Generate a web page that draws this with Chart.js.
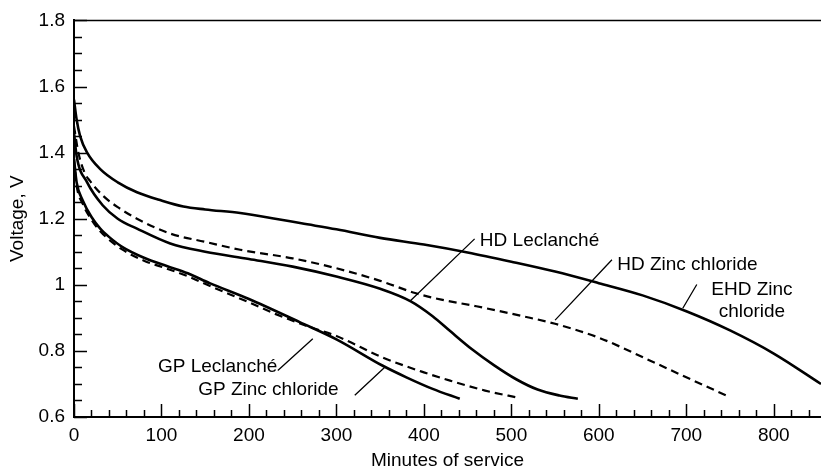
<!DOCTYPE html>
<html><head><meta charset="utf-8">
<script src="https://cdn.jsdelivr.net/npm/chart.js@4"></script>
<style>html,body{margin:0;padding:0;background:#fff}#wrap{width:821px;height:472px}</style>
</head><body><div id="wrap"><canvas id="c" width="821" height="472"></canvas></div>
<script>
// ---- tick labels ----
const xTickValues = [0, 100, 200, 300, 400, 500, 600, 700, 800];
const xTickLabels = ['0', '100', '200', '300', '400', '500', '600', '700', '800'];
const yTickValues = [0.6, 0.8, 1.0, 1.2, 1.4, 1.6, 1.8];
const yTickLabels = ['0.6', '0.8', '1', '1.2', '1.4', '1.6', '1.8'];

// ---- series (minutes of service, voltage) ----
const gpLecMinutes = [0, 3, 10, 20, 30, 40, 55, 80, 106, 130, 155, 200, 258, 300, 353, 380, 410, 441];
const gpLecVolts   = [1.38, 1.31, 1.255, 1.205, 1.17, 1.145, 1.115, 1.082, 1.057, 1.035, 1.005, 0.957, 0.887, 0.835, 0.755, 0.72, 0.685, 0.655];

const gpZncMinutes = [0, 3, 10, 20, 30, 40, 55, 80, 106, 130, 155, 200, 230, 270, 300, 353, 400, 430, 470, 510];
const gpZncVolts   = [1.38, 1.30, 1.245, 1.197, 1.162, 1.137, 1.107, 1.073, 1.049, 1.026, 0.997, 0.947, 0.912, 0.872, 0.845, 0.78, 0.735, 0.71, 0.68, 0.657];

const hdLecMinutes = [0, 3, 15, 33, 50, 72, 110, 150, 200, 250, 300, 350, 385, 410, 430, 455, 480, 505, 530, 555, 576];
const hdLecVolts   = [1.46, 1.39, 1.31, 1.24, 1.20, 1.17, 1.125, 1.10, 1.078, 1.055, 1.025, 0.988, 0.95, 0.905, 0.86, 0.805, 0.757, 0.715, 0.683, 0.665, 0.655];

const hdZncMinutes = [0, 5, 12, 18, 33, 50, 72, 110, 150, 190, 250, 300, 350, 390, 420, 460, 513, 550, 600, 655, 700, 750];
const hdZncVolts   = [1.48, 1.40, 1.34, 1.315, 1.27, 1.235, 1.20, 1.155, 1.13, 1.106, 1.08, 1.05, 1.012, 0.975, 0.955, 0.935, 0.905, 0.882, 0.84, 0.775, 0.72, 0.66];

const ehdZncMinutes = [0, 3, 7, 15, 30, 50, 72, 100, 125, 150, 190, 230, 260, 300, 350, 400, 450, 500, 550, 600, 650, 700, 750, 800, 854];
const ehdZncVolts   = [1.56, 1.50, 1.45, 1.40, 1.35, 1.31, 1.28, 1.255, 1.237, 1.228, 1.217, 1.20, 1.186, 1.168, 1.142, 1.122, 1.098, 1.07, 1.04, 1.005, 0.968, 0.92, 0.862, 0.792, 0.70];

const seriesNames = ['GP Leclanché', 'GP Zinc chloride', 'HD Leclanché', 'HD Zinc chloride', 'EHD Zinc chloride'];

// ---- annotation labels (data units) ----
const noteTexts = [['GP Leclanché'], ['GP Zinc chloride'], ['HD Leclanché'], ['HD Zinc chloride'], ['EHD Zinc', 'chloride']];
const noteAnchor = [[96, 0.753], [142, 0.681], [464, 1.133], [621, 1.061], [775, 0.986]];
const noteAlign = ['left', 'left', 'left', 'left', 'center'];
const leaderFrom = [[233, 0.741], [321, 0.666], [458, 1.139], [615, 1.076], [712, 1.001]];
const leaderTo   = [[273, 0.837], [355, 0.750], [384, 0.950], [550, 0.893], [696, 0.929]];

function pts(xs, ys) { return xs.map((x, i) => ({x: x, y: ys[i]})); }

const FONT = '"Liberation Sans", Arial, Helvetica, sans-serif';

function mkSet(i, xs, ys, dashed) {
  return {
    label: seriesNames[i],
    data: pts(xs, ys),
    borderColor: '#000',
    borderWidth: dashed ? 2.2 : 2.6,
    borderDash: dashed ? [8, 5] : [],
    pointRadius: 0,
    fill: false,
    cubicInterpolationMode: 'monotone'
  };
}

const decor = {
  id: 'decor',
  afterDraw(chart) {
    const ctx = chart.ctx;
    const xs = chart.scales.x, ys = chart.scales.y;
    const a = chart.chartArea;
    ctx.save();
    ctx.strokeStyle = '#000';
    // top border
    ctx.lineWidth = 1.5;
    ctx.beginPath(); ctx.moveTo(a.left, a.top); ctx.lineTo(a.right, a.top); ctx.stroke();
    // inward ticks
    ctx.lineWidth = 1.5;
    ctx.beginPath();
    for (let v = 0; v <= xs.max + 0.001; v += 20) {
      const px = Math.round(xs.getPixelForValue(v)) + 0.5;
      const len = (Math.round(v) % 100 === 0) ? 13 : 7;
      ctx.moveTo(px, a.bottom); ctx.lineTo(px, a.bottom - len);
    }
    for (let k = 0; k <= 24; k++) {
      const v = 0.6 + k * 0.05;
      const py = Math.round(ys.getPixelForValue(v)) + 0.5;
      const len = (k % 4 === 0) ? 13 : 8;
      ctx.moveTo(a.left, py); ctx.lineTo(a.left + len, py);
    }
    ctx.stroke();
    // leaders
    ctx.lineWidth = 1.3;
    ctx.beginPath();
    for (let i = 0; i < leaderFrom.length; i++) {
      ctx.moveTo(xs.getPixelForValue(leaderFrom[i][0]), ys.getPixelForValue(leaderFrom[i][1]));
      ctx.lineTo(xs.getPixelForValue(leaderTo[i][0]), ys.getPixelForValue(leaderTo[i][1]));
    }
    ctx.stroke();
    // labels
    ctx.fillStyle = '#000';
    ctx.font = '19px ' + FONT;
    ctx.textBaseline = 'middle';
    for (let i = 0; i < noteTexts.length; i++) {
      ctx.textAlign = noteAlign[i];
      const px = xs.getPixelForValue(noteAnchor[i][0]);
      const py = ys.getPixelForValue(noteAnchor[i][1]);
      noteTexts[i].forEach((t, j) => { ctx.fillText(t, px, py + j * 22); });
    }
    ctx.restore();
  }
};

new Chart(document.getElementById('c'), {
  type: 'line',
  data: {
    datasets: [
      mkSet(0, gpLecMinutes, gpLecVolts, false),
      mkSet(1, gpZncMinutes, gpZncVolts, true),
      mkSet(2, hdLecMinutes, hdLecVolts, false),
      mkSet(3, hdZncMinutes, hdZncVolts, true),
      mkSet(4, ehdZncMinutes, ehdZncVolts, false)
    ]
  },
  options: {
    responsive: false,
    devicePixelRatio: 1,
    animation: false,
    layout: {padding: {top: 15, right: 0, bottom: 0, left: 0}},
    plugins: {legend: {display: false}, tooltip: {enabled: false}},
    scales: {
      x: {
        type: 'linear', min: 0, max: 854,
        afterFit(s) { s.height = 55; },
        afterBuildTicks(s) { s.ticks = xTickValues.map(v => ({value: v})); },
        grid: {display: false, drawTicks: false},
        border: {display: true, color: '#000', width: 2},
        ticks: {
          padding: 7, color: '#000', maxRotation: 0, autoSkip: false,
          font: {family: FONT, size: 19},
          callback: (v) => { const i = xTickValues.indexOf(v); return i >= 0 ? xTickLabels[i] : ''; }
        },
        title: {display: true, text: 'Minutes of service', color: '#000',
                font: {family: FONT, size: 19}, padding: {top: 0, bottom: 0}}
      },
      y: {
        type: 'linear', min: 0.6, max: 1.8,
        afterFit(s) { s.width = 74; },
        afterBuildTicks(s) { s.ticks = yTickValues.map(v => ({value: v})); },
        grid: {display: false, drawTicks: false},
        border: {display: true, color: '#000', width: 2},
        ticks: {
          padding: 9, color: '#000', autoSkip: false,
          font: {family: FONT, size: 19},
          callback: (v) => { const i = yTickValues.findIndex(t => Math.abs(t - v) < 1e-6); return i >= 0 ? yTickLabels[i] : ''; }
        },
        title: {display: true, text: 'Voltage, V', color: '#000',
                font: {family: FONT, size: 19}, padding: {top: 6, bottom: 0}}
      }
    }
  },
  plugins: [decor]
});
</script></body></html>
